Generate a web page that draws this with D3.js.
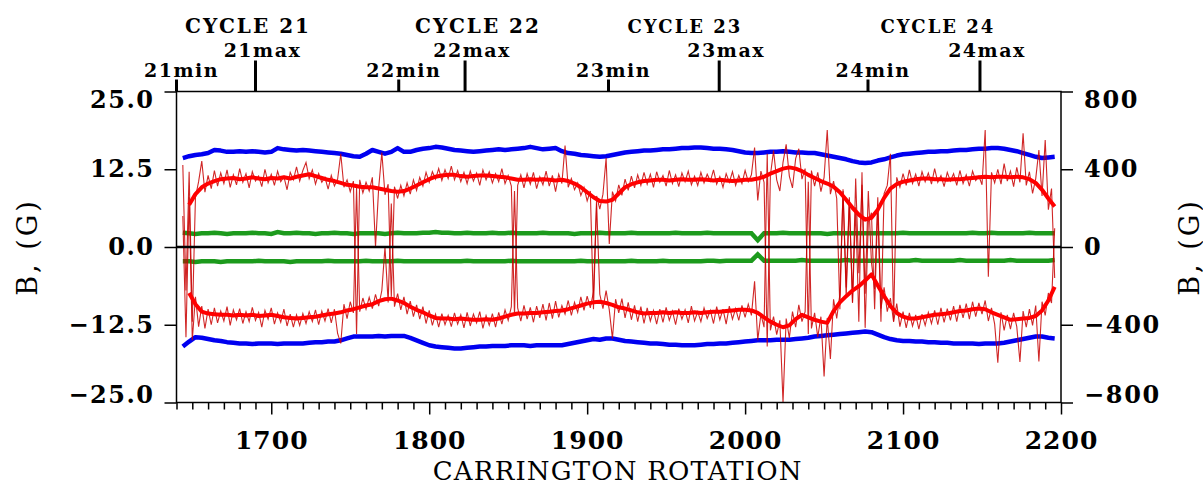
<!DOCTYPE html>
<html>
<head>
<meta charset="utf-8">
<script src="https://cdn.jsdelivr.net/npm/d3@7"></script>
<style>
  body { margin: 0; background: #fff; }
  svg { display: block; font-family: "DejaVu Serif", serif; }
</style>
</head>
<body>
<script>
//============ data ============//
// top annotations (Carrington rotation numbers)
var minRot = [1640, 1780.7, 1913.5, 2077.8];
var minLabels = ['21min', '22min', '23min', '24min'];
var maxRot = [1690, 1822.7, 1983.6, 2148.7];
var maxLabels = ['21max', '22max', '23max', '24max'];
var cycleRot = [1685.3, 1830.9, 1961.9, 2122.1];
var cycleLabels = ['CYCLE 21', 'CYCLE 22', 'CYCLE 23', 'CYCLE 24'];

// axis ticks
var xMajor = [1700, 1800, 1900, 2000, 2100, 2200];
var yTicksL = [-25, -12.5, 0, 12.5, 25];
var yTicksR = [-800, -400, 0, 400, 800];

// smooth curves: one value every 4 rotations, CR 1644 .. 2196
var smoothStart = 1644, smoothStep = 4;

var redUpper = [
  null, 6.8, 8.5, 9.6, 10.2, 10.6, 10.9, 11.0, 11.1, 10.9,      // 1644
  11.0, 11.2, 11.0, 10.9, 11.1, 11.0, 11.2, 11.0, 11.3, 11.5,   // 1684
  11.7, 11.4, 11.1, 10.8, 10.6, 10.3, 10.0, 9.9, 9.7, 9.6,      // 1724
  9.6, 9.4, 9.2, 9.0, 8.9, 9.0, 9.4, 9.9, 10.4, 10.9,           // 1764
  11.3, 11.5, 11.6, 11.6, 11.4, 11.3, 11.4, 11.5, 11.5, 11.4,   // 1804
  11.3, 11.2, 11.0, 10.8, 10.8, 10.9, 10.8, 10.9, 10.8, 10.7,   // 1844
  10.8, 10.6, 10.2, 9.6, 8.8, 8.0, 7.4, 7.3, 7.6, 8.6,          // 1884
  9.6, 10.1, 10.4, 10.6, 10.7, 10.8, 10.8, 10.7, 10.8, 10.9,    // 1924
  10.8, 10.8, 10.9, 10.8, 10.7, 10.8, 10.7, 10.6, 10.7, 10.8,   // 1964
  10.8, 11.0, 11.3, 11.8, 12.2, 12.6, 12.8, 12.6, 12.2, 11.6,   // 2004
  11.1, 10.6, 10.2, 9.7, 8.8, 7.6, 6.3, 5.2, 4.4, 4.7,          // 2044
  6.0, 7.9, 9.4, 10.1, 10.5, 10.7, 10.9, 11.0, 11.0, 10.9,      // 2084
  10.9, 10.8, 10.9, 10.9, 11.0, 11.1, 11.2, 11.3, 11.2, 11.3,   // 2124
  11.3, 11.2, 11.3, 11.2, 10.9, 10.3, 9.2, 7.8, 6.5             // 2164
];

var redLower = [
  null, -7.4, -9.2, -10.4, -10.7, -10.8, -10.9, -10.9, -11.0, -10.9,
  -11.0, -10.9, -11.1, -11.0, -10.9, -11.1, -11.3, -11.4, -11.5, -11.4,
  -11.3, -11.2, -11.0, -10.8, -10.7, -10.5, -10.2, -10.0, -9.7, -9.4,
  -9.2, -8.7, -8.4, -8.3, -8.6, -9.0, -9.6, -10.1, -10.5, -11.0,
  -11.4, -11.5, -11.5, -11.6, -11.5, -11.6, -11.7, -11.7, -11.6, -11.7,
  -11.5, -11.2, -10.9, -10.7, -10.7, -10.6, -10.6, -10.5, -10.4, -10.3,
  -10.2, -10.0, -9.7, -9.4, -9.1, -8.9, -8.8, -9.0, -9.3, -9.7,
  -9.9, -10.2, -10.5, -10.7, -10.6, -10.6, -10.5, -10.6, -10.5, -10.6,
  -10.6, -10.5, -10.6, -10.5, -10.4, -10.4, -10.3, -10.2, -10.1, -10.1,
  -10.2, -10.6, -11.3, -12.0, -12.5, -12.9, -12.6, -11.6, -10.9, -11.3,
  -11.7, -12.0, -12.2, -10.3, -8.9, -7.9, -7.0, -6.3, -5.4, -4.4,
  -6.2, -7.9, -9.5, -10.6, -11.2, -11.5, -11.5, -11.3, -11.1, -10.9,
  -10.8, -10.7, -10.5, -10.3, -10.2, -10.0, -9.9, -10.0, -10.5, -10.9,
  -11.3, -11.7, -11.6, -11.5, -11.4, -11.1, -10.2, -8.6, -6.4
];

var blueUpper = [
  14.3, 14.6, 14.8, 14.9, 15.1, 15.6, 15.5, 15.3, 15.3, 15.4,
  15.3, 15.4, 15.3, 15.2, 15.3, 15.9, 15.7, 15.6, 15.5, 15.6,
  15.5, 15.4, 15.3, 15.2, 15.1, 15.0, 14.8, 14.6, 14.5, 15.0,
  15.6, 15.3, 15.0, 15.3, 15.9, 15.3, 15.3, 15.6, 15.8, 15.9,
  16.1, 16.0, 15.8, 15.6, 15.5, 15.4, 15.3, 15.4, 15.5, 15.6,
  15.7, 15.6, 15.7, 15.8, 15.9, 16.1, 15.9, 15.7, 15.8, 15.9,
  15.4, 15.1, 15.0, 14.8, 14.7, 14.6, 14.5, 14.6, 14.8, 15.0,
  15.2, 15.3, 15.4, 15.5, 15.5, 15.6, 15.7, 15.7, 15.8, 15.9,
  15.9, 16.0, 16.0, 15.9, 15.8, 15.8, 15.7, 15.6, 15.4, 15.2,
  15.1, 15.1, 15.2, 15.3, 15.3, 15.4, 15.3, 15.2, 15.2, 15.1,
  15.1, 14.9, 14.7, 14.5, 14.3, 14.1, 13.8, 13.6, 13.5, 13.6,
  13.9, 14.1, 14.4, 14.7, 14.9, 15.0, 15.1, 15.2, 15.3, 15.3,
  15.4, 15.4, 15.5, 15.6, 15.6, 15.7, 15.8, 15.8, 15.9, 15.9,
  15.8, 15.6, 15.4, 15.1, 14.8, 14.5, 14.3, 14.4, 14.5
];

var blueLower = [
  -16.0, -15.2, -14.5, -14.6, -14.8, -15.0, -15.1, -15.3, -15.4, -15.5,
  -15.5, -15.6, -15.5, -15.5, -15.5, -15.6, -15.5, -15.5, -15.5, -15.5,
  -15.4, -15.3, -15.3, -15.2, -15.2, -15.0, -14.7, -14.4, -14.4, -14.4,
  -14.4, -14.3, -14.4, -14.3, -14.3, -14.3, -14.6, -15.0, -15.4, -15.8,
  -16.0, -16.1, -16.2, -16.3, -16.3, -16.2, -16.1, -16.0, -16.0, -15.9,
  -15.9, -15.9, -15.8, -15.8, -15.8, -15.9, -15.8, -15.8, -15.8, -15.8,
  -15.8, -15.6, -15.4, -15.2, -15.0, -14.8, -14.9, -14.7, -14.7, -14.9,
  -15.1, -15.2, -15.3, -15.4, -15.5, -15.5, -15.6, -15.7, -15.7, -15.8,
  -15.8, -15.8, -15.7, -15.6, -15.6, -15.5, -15.5, -15.4, -15.3, -15.2,
  -15.1, -15.0, -15.0, -15.0, -14.9, -14.9, -14.9, -14.8, -14.7, -14.6,
  -14.4, -14.3, -14.2, -14.1, -14.0, -13.9, -13.8, -13.7, -13.6, -13.7,
  -14.1, -14.5, -14.8, -15.0, -15.1, -15.1, -15.2, -15.2, -15.3, -15.3,
  -15.4, -15.4, -15.5, -15.5, -15.5, -15.5, -15.6, -15.5, -15.5, -15.5,
  -15.4, -15.2, -15.0, -14.8, -14.6, -14.4, -14.4, -14.6, -14.7
];

var greenUpper = [
  2.3, 2.2, 2.1, 2.2, 2.2, 2.3, 2.2, 2.1, 2.2, 2.2,
  2.2, 2.3, 2.2, 2.2, 2.1, 2.4, 2.2, 2.2, 2.3, 2.2,
  2.2, 2.1, 2.2, 2.2, 2.3, 2.2, 2.2, 2.1, 2.2, 2.2,
  2.2, 2.2, 2.1, 2.2, 2.3, 2.2, 2.2, 2.2, 2.3, 2.3,
  2.4, 2.3, 2.3, 2.2, 2.2, 2.3, 2.2, 2.2, 2.2, 2.3,
  2.2, 2.2, 2.3, 2.2, 2.2, 2.2, 2.2, 2.3, 2.2, 2.2,
  2.2, 2.2, 2.1, 2.2, 2.2, 2.2, 2.3, 2.2, 2.2, 2.2,
  2.2, 2.3, 2.2, 2.2, 2.2, 2.2, 2.2, 2.2, 2.3, 2.2,
  2.2, 2.2, 2.2, 2.3, 2.2, 2.2, 2.2, 2.2, 2.2, 2.2,
  2.2, 1.1, 2.2, 2.2, 2.2, 2.3, 2.2, 2.2, 2.2, 2.2,
  2.2, 2.2, 2.1, 2.2, 2.2, 2.2, 2.2, 2.2, 2.2, 2.2,
  2.2, 2.2, 2.2, 2.2, 2.3, 2.2, 2.2, 2.2, 2.2, 2.2,
  2.2, 2.2, 2.2, 2.2, 2.2, 2.3, 2.2, 2.2, 2.3, 2.2,
  2.2, 2.2, 2.2, 2.2, 2.3, 2.2, 2.2, 2.2, 2.2
];

var greenLower = [
  -2.3, -2.3, -2.4, -2.3, -2.3, -2.3, -2.4, -2.3, -2.3, -2.3,
  -2.3, -2.3, -2.2, -2.3, -2.3, -2.3, -2.3, -2.4, -2.3, -2.3,
  -2.3, -2.3, -2.3, -2.2, -2.3, -2.3, -2.3, -2.3, -2.3, -2.2,
  -2.3, -2.3, -2.3, -2.3, -2.2, -2.3, -2.3, -2.3, -2.3, -2.3,
  -2.3, -2.3, -2.3, -2.3, -2.3, -2.2, -2.3, -2.3, -2.3, -2.3,
  -2.3, -2.3, -2.2, -2.3, -2.3, -2.3, -2.3, -2.3, -2.3, -2.3,
  -2.3, -2.3, -2.3, -2.2, -2.3, -2.3, -2.3, -2.3, -2.3, -2.3,
  -2.3, -2.2, -2.3, -2.3, -2.3, -2.3, -2.2, -2.3, -2.3, -2.3,
  -2.3, -2.3, -2.3, -2.2, -2.2, -2.3, -2.2, -2.2, -2.2, -2.2,
  -2.2, -1.2, -2.2, -2.2, -2.2, -2.2, -2.2, -2.2, -2.1, -2.2,
  -2.2, -2.2, -2.2, -2.2, -2.2, -2.1, -2.2, -2.2, -2.2, -2.2,
  -2.2, -2.2, -2.2, -2.2, -2.2, -2.2, -2.1, -2.2, -2.2, -2.2,
  -2.2, -2.2, -2.2, -2.1, -2.2, -2.2, -2.2, -2.2, -2.2, -2.2,
  -2.2, -2.1, -2.2, -2.2, -2.2, -2.2, -2.2, -2.2, -2.1
];

// rotation-to-rotation values: one every 2 rotations, CR 1644 .. 2196
var rawStart = 1644, rawStep = 2;

var rawUpper = [
  13.2, -7.0, 12.1, -12.0, 8.0, 10.5, 13.8, 8.8, 11.5, 9.4,        // 1644
  12.3, 9.8, 11.9, 10.2, 12.4, 9.6, 11.6, 10.0, 12.6, 10.4,        // 1664
  11.8, 9.5, 12.1, 10.6, 11.4, 9.7, 12.5, 10.3, 11.7, 9.9,         // 1684
  12.2, 10.5, 11.3, 9.2, 12.0, 10.8, 12.9, 10.6, 12.3, 13.6,       // 1704
  11.0, 12.4, 10.1, 11.8, 10.4, 11.2, 9.3, 11.5, 9.8, 10.9,        // 1724
  15.0, 9.6, 10.8, 8.9, 10.6, -14.0, 10.8, 8.7, 10.4, 9.0,         // 1744
  11.2, 0.0, 9.5, 15.2, 8.4, 10.1, -8.0, 9.7, 7.8, 9.9,            // 1764
  8.2, 10.3, 8.5, 10.8, 9.1, 11.2, 9.8, 12.0, 10.4, 12.1,          // 1784
  10.9, 12.6, 10.7, 12.4, 11.0, 13.0, 10.8, 12.3, 10.5, 12.0,      // 1804
  10.2, 12.2, 10.6, 11.9, 9.9, 12.4, 10.8, 12.1, 10.3, 11.8,       // 1824
  10.5, 12.6, 10.2, 11.5, 9.8, -11.0, 9.9, 11.6, 9.5, 11.8,        // 1844
  10.1, 12.0, 9.4, 11.3, 10.0, 12.2, 9.8, 11.5, 8.9, 11.7,         // 1864
  10.2, 16.3, 9.6, 11.0, 9.2, 10.3, 8.3, 9.6, 7.4, 9.0,            // 1884
  -10.0, 8.2, 6.1, 8.5, 14.3, 0.5, 8.9, 7.4, 10.0, 8.3,            // 1904
  10.9, 9.1, 11.4, 9.5, 11.6, 9.9, 12.0, 10.1, 11.7, 9.6,          // 1924
  12.1, 10.4, 11.5, 9.8, 12.3, 10.2, 11.6, 9.7, 11.9, 10.5,        // 1944
  12.2, 10.0, 11.4, 9.9, 12.0, 10.3, 11.7, 10.6, 12.4, 10.1,       // 1964
  11.3, 9.6, 11.8, 10.4, 12.1, 9.9, 11.5, 10.2, 12.3, 10.5,        // 1984
  11.6, 16.0, 7.5, 12.2, 10.4, -16.0, 11.5, 15.5, 10.8, 9.0,       // 2004
  13.6, 16.5, 11.4, 9.5, 14.2, 15.8, 10.9, 12.6, -14.0, 12.3,      // 2024
  9.8, 12.0, 8.9, 11.2, 18.8, 8.5, 10.6, 7.8, -10.0, 9.3,          // 2044
  -8.0, 7.5, -9.0, 6.4, -12.0, 12.0, -13.0, 4.0, 5.5, -10.0,       // 2064
  6.8, -12.0, 8.6, 9.9, 15.0, -12.0, 11.2, 9.6, 11.8, 9.9,         // 2084
  12.4, 10.2, 11.7, 9.8, 12.1, 10.5, 11.9, 10.1, 12.6, 10.4,       // 2104
  11.5, 9.7, 12.0, 10.6, 11.8, 9.9, 12.3, 10.2, 11.6, 9.8,         // 2124
  12.2, 10.7, 11.4, 10.0, 18.8, -4.8, 12.0, 10.3, 12.5, 10.1,      // 2144
  13.4, 10.6, 12.2, 9.7, 12.8, 10.4, 18.3, 9.9, 12.1, 8.6,         // 2164
  11.0, 15.6, 8.2, 17.2, 6.0, 9.4, -5.0                            // 2184
];

var rawLower = [
  5.0, -14.5, 8.0, -15.0, -8.0, -12.8, -9.5, -13.1, -10.0, -12.5,
  -9.8, -12.2, -10.3, -11.9, -9.6, -12.6, -10.1, -11.7, -9.9, -12.3,
  -10.4, -12.0, -9.7, -11.8, -10.5, -12.9, -10.2, -11.6, -9.8, -12.4,
  -10.6, -12.1, -10.0, -12.7, -10.8, -12.9, -10.9, -12.6, -10.7, -12.3,
  -10.4, -12.0, -10.1, -12.5, -10.3, -11.9, -9.9, -12.2, -10.0, -13.9,
  -15.5, -9.2, -11.5, -8.8, -10.6, 9.5, -10.4, -8.2, -10.0, -8.1,
  -9.9, -7.6, -9.5, -7.0, 0.0, -8.9, 7.0, -9.6, -7.5, -10.1,
  -8.0, -10.8, -8.7, -11.2, -9.3, -11.6, -9.6, -12.3, -10.2, -12.6,
  -10.8, -12.9, -10.7, -12.5, -11.0, -12.8, -10.6, -12.4, -10.9, -13.0,
  -10.5, -12.7, -10.8, -12.2, -10.4, -13.1, -11.0, -12.6, -10.7, -12.9,
  -10.5, -12.4, -10.1, -11.8, -9.6, 9.0, -9.8, -11.9, -9.4, -11.6,
  -9.7, -12.1, -9.5, -11.4, -9.2, -11.8, -9.0, -11.5, -8.7, -11.3,
  -9.4, -10.8, -8.6, -11.0, -8.9, -10.5, -8.0, -10.2, -7.9, -9.8,
  -7.2, 7.0, -7.6, -9.9, -7.0, -10.1, -14.7, -8.4, -10.6, -8.3,
  -11.4, -8.9, -11.7, -9.4, -12.0, -9.6, -12.3, -9.8, -11.9, -10.2,
  -12.4, -10.0, -12.1, -9.7, -11.8, -10.3, -12.5, -9.9, -11.6, -10.1,
  -12.2, -9.5, -11.9, -10.4, -12.0, -9.8, -11.5, -10.2, -12.3, -9.6,
  -11.7, -10.0, -12.4, -9.5, -11.6, -9.9, -11.8, -9.4, -11.3, -9.2,
  -11.0, -5.5, -15.0, -10.8, -12.9, 15.0, -13.4, -11.2, -14.1, -11.8,
  -25.0, -11.5, -14.6, -10.4, -12.9, -9.3, -12.0, -10.4, 10.5, -13.1,
  -10.6, -14.5, -11.2, -20.8, -11.4, -18.0, -8.4, -11.5, -7.6, 9.0,
  -6.5, 8.0, -8.8, 11.0, -4.2, 10.0, -7.5, 9.0, -2.5, -6.8,
  8.0, -9.9, -6.5, -10.4, -8.2, -12.0, -9.1, -12.8, -10.4, -13.0,
  -10.6, -12.7, -10.9, -13.2, -10.8, -12.6, -10.5, -12.3, -10.2, -12.5,
  -9.8, -12.1, -9.9, -11.8, -9.5, -12.0, -9.3, -11.4, -9.1, -11.6,
  -8.8, -11.2, -9.0, -10.8, -8.6, -11.9, -9.8, -12.4, -18.6, -10.5,
  -13.4, -10.9, -13.2, -10.6, -12.8, -18.5, -10.3, -12.9, -10.0, -12.6,
  -9.4, -18.4, -8.8, -11.0, -7.4, -9.0, 3.0
];

//============ setup ============//
var width = 1203, height = 486;
var fontFam = '"DejaVu Serif", serif';

var svg = d3.select('body').append('svg')
  .attr('width', width)
  .attr('height', height);

svg.append('rect').attr('width', width).attr('height', height).attr('fill', '#fff');

// scales
var x = d3.scaleLinear().domain([1640, 2200]).range([176.5, 1061]);
var y = d3.scaleLinear().domain([-25, 25]).range([402.5, 91.5]);
var yR = d3.scaleLinear().domain([-800, 800]).range([402.5, 91.5]);

function pairs(arr, start, step) {
  return arr.map(function(v, i) { return [start + i * step, v]; });
}

var line = d3.line()
  .defined(function(d) { return d[1] != null; })
  .x(function(d) { return x(d[0]); })
  .y(function(d) { return y(d[1]); });

var plot = svg.append('g');

// green
[greenUpper, greenLower].forEach(function(s) {
  plot.append('path')
    .attr('d', line(pairs(s, smoothStart, smoothStep)))
    .attr('fill', 'none')
    .attr('stroke', '#1c9a1c')
    .attr('stroke-width', 4.5);
});

// blue
[blueUpper, blueLower].forEach(function(s) {
  plot.append('path')
    .attr('d', line(pairs(s, smoothStart, smoothStep)))
    .attr('fill', 'none')
    .attr('stroke', '#0000f0')
    .attr('stroke-width', 4.5)
    .attr('stroke-linejoin', 'round');
});

// thin red (per rotation)
[rawUpper, rawLower].forEach(function(s) {
  plot.append('path')
    .attr('d', line(pairs(s, rawStart, rawStep)))
    .attr('fill', 'none')
    .attr('stroke', '#c80000')
    .attr('stroke-opacity', 0.85)
    .attr('stroke-width', 1.1);
});

// thick red (smoothed)
[redUpper, redLower].forEach(function(s) {
  plot.append('path')
    .attr('d', line(pairs(s, smoothStart, smoothStep)))
    .attr('fill', 'none')
    .attr('stroke', '#ff0000')
    .attr('stroke-width', 4)
    .attr('stroke-linejoin', 'round');
});

// zero line
svg.append('line')
  .attr('x1', x(1640)).attr('x2', x(2200))
  .attr('y1', y(0)).attr('y2', y(0))
  .attr('stroke', '#000')
  .attr('stroke-width', 2.5);

// frame
svg.append('rect')
  .attr('x', x(1640)).attr('y', y(25))
  .attr('width', x(2200) - x(1640))
  .attr('height', y(-25) - y(25))
  .attr('fill', 'none')
  .attr('stroke', '#000')
  .attr('stroke-width', 1.5);

//============ axes ============//
function styleAxis(g, size) {
  g.attr('font-family', fontFam).attr('font-size', size).attr('font-weight', 'bold');
  g.select('.domain').remove();
  g.selectAll('line').attr('stroke', '#000').attr('stroke-width', 1.5);
  g.selectAll('text').attr('fill', '#000');
}

function labelDy(d, hi, lo) {
  if (d === hi) return '0.68em';
  if (d === lo) return '0em';
  return '0.32em';
}

var gL = svg.append('g')
  .attr('transform', 'translate(' + x(1640) + ',0)')
  .call(d3.axisLeft(y).tickValues(yTicksL).tickSize(12).tickSizeOuter(0)
    .tickPadding(10).tickFormat(d3.format('.1f')));
styleAxis(gL, 24);
gL.selectAll('text')
  .attr('letter-spacing', 1.5)
  .attr('dy', function(d) { return labelDy(d, 25, -25); });

var gR = svg.append('g')
  .attr('transform', 'translate(' + x(2200) + ',0)')
  .call(d3.axisRight(yR).tickValues(yTicksR).tickSize(12).tickSizeOuter(0)
    .tickPadding(11).tickFormat(d3.format('d')));
styleAxis(gR, 24);
gR.selectAll('text')
  .attr('letter-spacing', 1.7)
  .attr('dy', function(d) { return labelDy(d, 800, -800); });

var gB = svg.append('g')
  .attr('transform', 'translate(0,' + y(-25) + ')')
  .call(d3.axisBottom(x).tickValues(xMajor).tickSize(12).tickSizeOuter(0)
    .tickPadding(17).tickFormat(d3.format('d')));
styleAxis(gB, 25);
gB.selectAll('text').attr('letter-spacing', 1);

var xMinor = d3.range(1640, 2200, 10).filter(function(d) { return d % 100 !== 0; });
var gBm = svg.append('g')
  .attr('transform', 'translate(0,' + y(-25) + ')')
  .call(d3.axisBottom(x).tickValues(xMinor).tickSize(7).tickSizeOuter(0).tickFormat(''));
styleAxis(gBm, 10);

// top: cycle min / max markers
var topY = y(25);
svg.selectAll('.minTick').data(minRot).join('line')
  .attr('class', 'minTick')
  .attr('x1', function(d) { return x(d); })
  .attr('x2', function(d) { return x(d); })
  .attr('y1', topY).attr('y2', topY - 12)
  .attr('stroke', '#000').attr('stroke-width', 3);

svg.selectAll('.maxTick').data(maxRot).join('line')
  .attr('class', 'maxTick')
  .attr('x1', function(d) { return x(d); })
  .attr('x2', function(d) { return x(d); })
  .attr('y1', topY).attr('y2', topY - 31)
  .attr('stroke', '#000').attr('stroke-width', 3);

svg.selectAll('.minLab').data(minRot).join('text')
  .attr('class', 'minLab')
  .attr('x', function(d) { return x(d) + 5; })
  .attr('y', topY - 15)
  .attr('text-anchor', 'middle')
  .attr('font-family', fontFam)
  .attr('font-weight', 'bold')
  .attr('font-size', 19)
  .attr('letter-spacing', 1.5)
  .text(function(d, i) { return minLabels[i]; });

svg.selectAll('.maxLab').data(maxRot).join('text')
  .attr('class', 'maxLab')
  .attr('x', function(d) { return x(d) + 7; })
  .attr('y', topY - 35)
  .attr('text-anchor', 'middle')
  .attr('font-family', fontFam)
  .attr('font-weight', 'bold')
  .attr('font-size', 19)
  .attr('letter-spacing', 1.5)
  .text(function(d, i) { return maxLabels[i]; });

svg.selectAll('.cycLab').data(cycleRot).join('text')
  .attr('class', 'cycLab')
  .attr('x', function(d) { return x(d); })
  .attr('y', topY - 59)
  .attr('text-anchor', 'middle')
  .attr('font-family', fontFam)
  .attr('font-weight', 'bold')
  .attr('font-size', function(d, i) { return i < 2 ? 20 : 18; })
  .attr('letter-spacing', 2)
  .text(function(d, i) { return cycleLabels[i]; });

// axis titles
svg.append('text')
  .attr('x', (x(1640) + x(2200)) / 2 - 1)
  .attr('y', 480)
  .attr('text-anchor', 'middle')
  .attr('font-family', fontFam)
  .attr('font-size', 26)
  .attr('letter-spacing', 1.2)
  .text('CARRINGTON ROTATION');

[27, 1189].forEach(function(cx) {
  svg.append('text')
    .attr('transform', 'translate(' + cx + ',' + y(0) + ') rotate(-90)')
    .attr('text-anchor', 'middle')
    .attr('dominant-baseline', 'central')
    .attr('font-family', fontFam)
    .attr('font-size', 27)
    .attr('letter-spacing', 3)
    .text('B, (G)');
});
</script>
</body>
</html>
